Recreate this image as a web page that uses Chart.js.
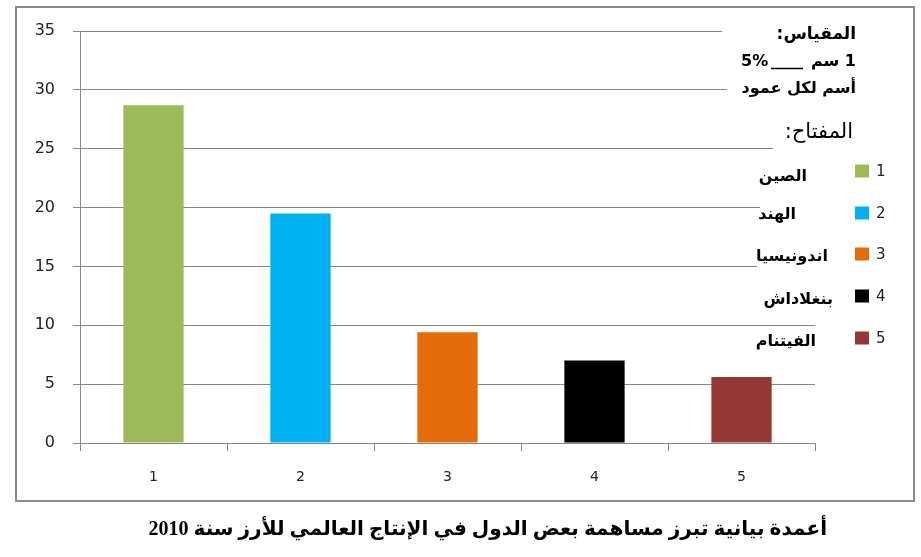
<!DOCTYPE html>
<html lang="ar">
<head>
<meta charset="utf-8">
<script src="https://cdn.jsdelivr.net/npm/chart.js@4"></script>
<style>
  html, body { margin: 0; padding: 0; background: #ffffff; }
  #wrap { width: 921px; height: 557px; }
</style>
</head>
<body>
<div id="wrap"><canvas id="c" width="921" height="557"></canvas></div>
<script>
// ---- data ----
const categories = ['1', '2', '3', '4', '5'];
const values = [28.7, 19.5, 9.4, 7.0, 5.6];
const barColors = ['#9BBB59', '#00B0F0', '#E36C09', '#000000', '#953735'];
const countries = ['الصين', 'الهند', 'اندونيسيا', 'بنغلاداش', 'الفيتنام'];
const scaleTitle = 'المقياس:';
const scaleUnit = '1 سم';
const scaleValue = '5%';
const scaleNote = 'أسم لكل عمود';
const keyTitle = 'المفتاح:';
const caption = 'أعمدة بيانية تبرز مساهمة بعض الدول في الإنتاج العالمي للأرز سنة 2010';
const yMax = 35;
const yStep = 5;

const GRID = '#878787';

const decor = {
  id: 'decor',
  afterDraw(chart) {
    const ctx = chart.ctx;
    const y = chart.scales.y;
    ctx.save();
    // white masks where the text boxes cover the gridlines
    const masks = [[35, 722], [30, 727], [25, 773], [20, 760], [15, 757]];
    ctx.fillStyle = '#ffffff';
    masks.forEach(([v, x]) => {
      const py = y.getPixelForValue(v);
      ctx.fillRect(x, py - 2, 95, 4);
    });

    // outer frame
    ctx.strokeStyle = '#8c8c8c';
    ctx.lineWidth = 2;
    ctx.strokeRect(16, 7, 898, 494);

    ctx.fillStyle = '#000000';
    ctx.textBaseline = 'middle';
    ctx.direction = 'rtl';
    ctx.textAlign = 'right';
    // scale box
    ctx.font = 'bold 17px "DejaVu Sans"';
    ctx.fillText(scaleTitle, 856, 35);
    ctx.font = 'bold 16px "DejaVu Sans"';
    ctx.fillText(scaleUnit, 856, 62);
    ctx.fillText(scaleNote, 856, 89);
    ctx.direction = 'ltr';
    ctx.textAlign = 'left';
    ctx.fillText(scaleValue, 741, 62);
    ctx.strokeStyle = '#000000';
    ctx.lineWidth = 1.5;
    ctx.beginPath();
    ctx.moveTo(771, 68.5);
    ctx.lineTo(803, 68.5);
    ctx.stroke();

    // key title
    ctx.direction = 'rtl';
    ctx.textAlign = 'right';
    ctx.font = '21px "DejaVu Sans"';
    ctx.fillText(keyTitle, 853, 133);

    // key items
    const sqY = [171, 213, 254, 296, 338];
    const lblY = [177, 215, 257, 300, 342];
    const lblR = [807, 796, 828, 833, 816];
    ctx.font = 'bold 16px "DejaVu Sans"';
    countries.forEach((t, i) => ctx.fillText(t, lblR[i], lblY[i]));
    ctx.direction = 'ltr';
    ctx.textAlign = 'left';
    ctx.font = '15px "DejaVu Sans"';
    categories.forEach((c, i) => {
      ctx.fillStyle = barColors[i];
      ctx.fillRect(855, sqY[i] - 6.5, 14, 13);
      ctx.fillStyle = '#222222';
      ctx.fillText(c, 876, sqY[i] + 1);
    });

    // caption
    ctx.direction = 'rtl';
    ctx.textAlign = 'right';
    ctx.fillStyle = '#000000';
    let size = 20;
    ctx.font = 'bold ' + size + 'px "Liberation Serif", "DejaVu Sans"';
    const w = ctx.measureText(caption).width;
    size = Math.max(14, Math.min(24, size * 679 / w));
    ctx.font = 'bold ' + size.toFixed(2) + 'px "Liberation Serif", "DejaVu Sans"';
    ctx.fillText(caption, 827, 530);
    ctx.restore();
  }
};

new Chart(document.getElementById('c'), {
  type: 'bar',
  data: {
    labels: categories,
    datasets: [{
      data: values,
      backgroundColor: barColors,
      borderWidth: 0,
      categoryPercentage: 1,
      barPercentage: 0.41
    }]
  },
  options: {
    responsive: false,
    animation: false,
    devicePixelRatio: 1,
    layout: { padding: { left: 0, right: 106, top: 31, bottom: 64 } },
    plugins: { legend: { display: false }, tooltip: { enabled: false }, title: { display: false } },
    scales: {
      x: {
        grid: { display: true, drawOnChartArea: false, drawTicks: true, tickLength: 8, color: GRID, offset: true },
        border: { display: true, color: GRID, width: 1 },
        ticks: { color: '#222222', font: { family: 'DejaVu Sans', size: 14 }, padding: 18, maxRotation: 0 },
        afterFit(s) { s.height = 50; }
      },
      y: {
        min: 0, max: yMax,
        grid: { color: GRID, lineWidth: 1, tickLength: 7, drawTicks: true },
        border: { display: true, color: GRID, width: 1 },
        ticks: { stepSize: yStep, color: '#222222', font: { family: 'DejaVu Sans', size: 16 }, padding: 18 },
        afterFit(s) { s.width = 80; }
      }
    }
  },
  plugins: [decor]
});
</script>
</body>
</html>
